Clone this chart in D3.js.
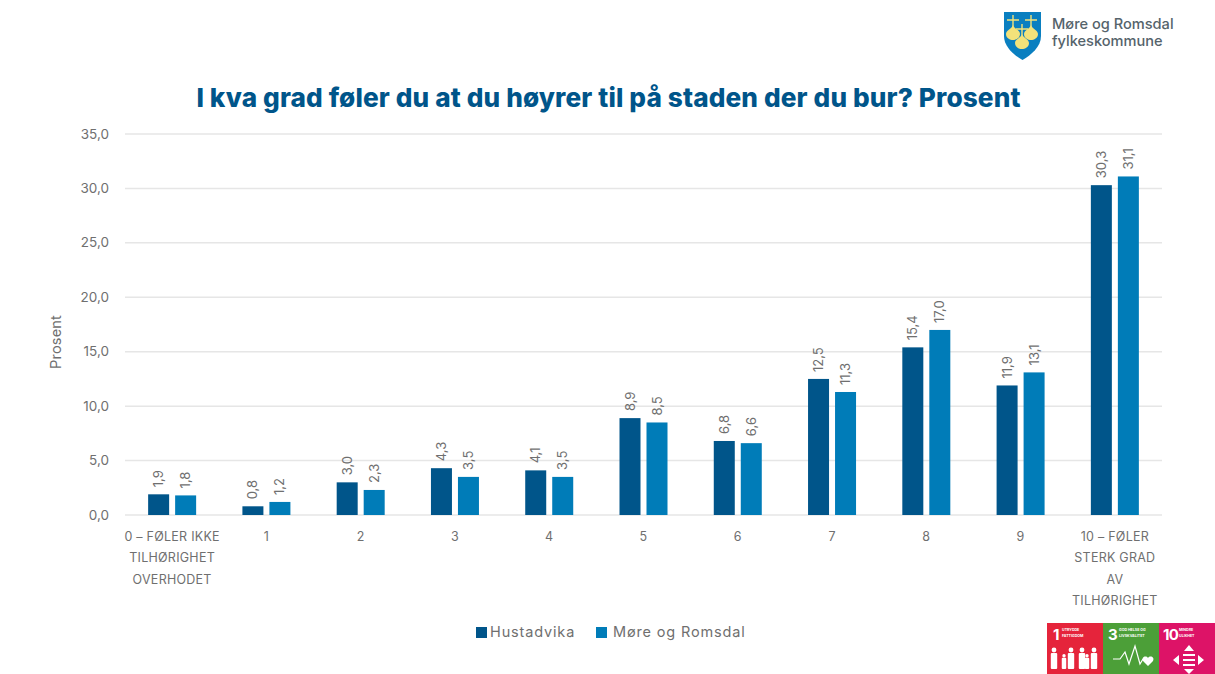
<!DOCTYPE html>
<html><head><meta charset="utf-8">
<script src="https://cdn.jsdelivr.net/npm/d3@7"></script>
<style>
html,body{margin:0;padding:0;background:#fff;}
svg{display:block;font-family:Inter,"Noto Sans",sans-serif;}
</style></head><body><div id="c"></div>
<script>
const categories=["0 – FØLER IKKE|TILHØRIGHET|OVERHODET","1","2","3","4","5","6","7","8","9","10 – FØLER|STERK GRAD|AV|TILHØRIGHET"];
const seriesNames=["Hustadvika","Møre og Romsdal"];
const hustadvika=[1.9,0.8,3.0,4.3,4.1,8.9,6.8,12.5,15.4,11.9,30.3];
const moreRomsdal=[1.8,1.2,2.3,3.5,3.5,8.5,6.6,11.3,17.0,13.1,31.1];
const yTicks=[0,5,10,15,20,25,30,35];
const titleText="I kva grad føler du at du høyrer til på staden der du bur? Prosent";
const colors=["#00558a","#007cb8"];
const fmt=v=>v.toFixed(1).replace(".",",");

const W=1215,H=674;
const svg=d3.select("#c").append("svg").attr("width",W).attr("height",H).attr("viewBox",[0,0,W,H]);
const x=d3.scaleBand().domain(categories).range([125,1162]);
const y=d3.scaleLinear().domain([0,35]).range([515,134]);
const barW=21,gap=6;

svg.append("text").attr("x",608.5).attr("y",107).attr("text-anchor","middle")
  .attr("font-size",26.2).attr("font-weight",800).attr("fill","#00558a").attr("letter-spacing",0.12).text(titleText);

svg.append("g").selectAll("line").data(yTicks).join("line")
  .attr("x1",125).attr("x2",1162).attr("y1",d=>y(d)).attr("y2",d=>y(d))
  .attr("stroke","#e6e6e6").attr("stroke-width",1.5);
svg.append("g").selectAll("text").data(yTicks).join("text")
  .attr("x",109).attr("y",d=>y(d)+4.5).attr("text-anchor","end")
  .attr("font-size",13.5).attr("fill","#6f6f6f").text(fmt);
svg.append("text").attr("transform","translate(61,342) rotate(-90)").attr("text-anchor","middle")
  .attr("font-size",14.5).attr("letter-spacing",0.2).attr("fill","#6f6f6f").text("Prosent");

[hustadvika,moreRomsdal].forEach((vals,s)=>{
  const g=svg.append("g");
  const bx=i=>x(categories[i])+x.bandwidth()/2+(s===0?-gap/2-barW:gap/2);
  g.selectAll("rect").data(vals).join("rect")
    .attr("x",(d,i)=>bx(i)).attr("width",barW)
    .attr("y",d=>y(d)).attr("height",d=>y(0)-y(d)).attr("fill",colors[s]);
  g.selectAll("text").data(vals).join("text")
    .attr("transform",(d,i)=>`translate(${bx(i)+barW/2+4.5},${y(d)-7}) rotate(-90)`)
    .attr("font-size",13).attr("fill","#6f6f6f").text(fmt);
});

const xl=svg.append("g").selectAll("text").data(categories).join("text")
  .attr("text-anchor","middle").attr("font-size",12.5).attr("letter-spacing",0.25).attr("fill","#6f6f6f");
xl.each(function(d){
  const cx=x(d)+x.bandwidth()/2;
  d3.select(this).selectAll("tspan").data(d.split("|")).join("tspan")
    .attr("x",cx).attr("y",(t,i)=>541+i*21.3).text(t=>t);
});

const legendX=[476,596];
const legendTextX=[490,613];
const lg=svg.append("g").selectAll("g").data(seriesNames).join("g");
lg.append("rect").attr("x",(d,i)=>legendX[i]).attr("y",627).attr("width",11).attr("height",11).attr("fill",(d,i)=>colors[i]);
lg.append("text").attr("x",(d,i)=>legendTextX[i]).attr("y",637).attr("font-size",14.5).attr("letter-spacing",0.85).attr("fill","#6f6f6f").text(d=>d);

// Coat of arms logo
const logo=svg.append("g");
logo.append("path").attr("d","M1004 12H1041V36C1041 47 1031 55 1022.5 60C1014 55 1004 47 1004 36Z").attr("fill","#0a7fc0");
[[1013,15],[1031,15],[1022,24]].forEach(([cx,top])=>{
  logo.append("path").attr("d",`M${cx} ${top}V${top+14}M${cx-6} ${top+5}H${cx+6}`).attr("stroke","#f3e27a").attr("stroke-width",1.4);
  logo.append("path").attr("d",`M${cx} ${top+10}C${cx+1} ${top+14} ${cx+7} ${top+15} ${cx+7} ${top+19}C${cx+7} ${top+23} ${cx+3} ${top+25} ${cx} ${top+25}C${cx-3} ${top+25} ${cx-7} ${top+23} ${cx-7} ${top+19}C${cx-7} ${top+15} ${cx-1} ${top+14} ${cx} ${top+10}Z`).attr("fill","#f3e27a");
});
logo.append("text").attr("x",1052).attr("y",29).attr("font-size",14.6).attr("font-weight",500).attr("fill","#55636b").text("Møre og Romsdal");
logo.append("text").attr("x",1052).attr("y",46).attr("font-size",14.6).attr("font-weight",500).attr("fill","#55636b").text("fylkeskommune");

// SDG tiles
const sdg=svg.append("g");
const tiles=[[1047,56,"#e5243b","1","UTRYDDE","FATTIGDOM",1053,1062],[1103,56,"#4c9f38","3","GOD HELSE OG","LIVSKVALITET",1108,1119],[1159,56,"#dd1367","10","MINDRE","ULIKHET",1163,1179]];
tiles.forEach(([tx,tw,c,n,a,b,nx,sx])=>{
  sdg.append("rect").attr("x",tx).attr("y",623).attr("width",tw).attr("height",51).attr("fill",c);
  sdg.append("text").attr("x",nx).attr("y",640).attr("font-size",15).attr("font-weight",700).attr("letter-spacing",-0.8).attr("fill","#fff").text(n);
  sdg.append("text").attr("x",sx).attr("y",631).attr("font-size",3.6).attr("font-weight",700).attr("fill","#fff").text(a);
  sdg.append("text").attr("x",sx).attr("y",636.5).attr("font-size",3.6).attr("font-weight",700).attr("fill","#fff").text(b);
});
[[1054,1],[1064,.7],[1071,1],[1082,1],[1087,.7],[1094,1]].forEach(([px,k])=>{
  sdg.append("circle").attr("cx",px).attr("cy",669-19*k).attr("r",2.4*k).attr("fill","#fff");
  sdg.append("rect").attr("x",px-3.2*k).attr("y",669-16*k).attr("width",6.4*k).attr("height",16*k).attr("rx",1).attr("fill","#fff");
});
sdg.append("path").attr("d","M1113 659H1120L1125 652L1129 664L1135 646L1140 664L1143 659").attr("fill","none").attr("stroke","#fff").attr("stroke-width",1.2);
sdg.append("path").attr("d","M1148 666L1143 661C1141 657 1146 655 1148 658C1150 655 1155 657 1153 661Z").attr("fill","#fff");
sdg.append("path").attr("d","M1189 645L1184 651H1194ZM1189 674L1184 669H1194ZM1173 660L1179 655V665ZM1204 660L1198 655V665Z").attr("fill","#fff");
sdg.selectAll(".eq").data([655,660,665]).join("rect").attr("x",1183).attr("y",d=>d-1).attr("width",12).attr("height",2).attr("fill","#fff");
</script></body></html>
